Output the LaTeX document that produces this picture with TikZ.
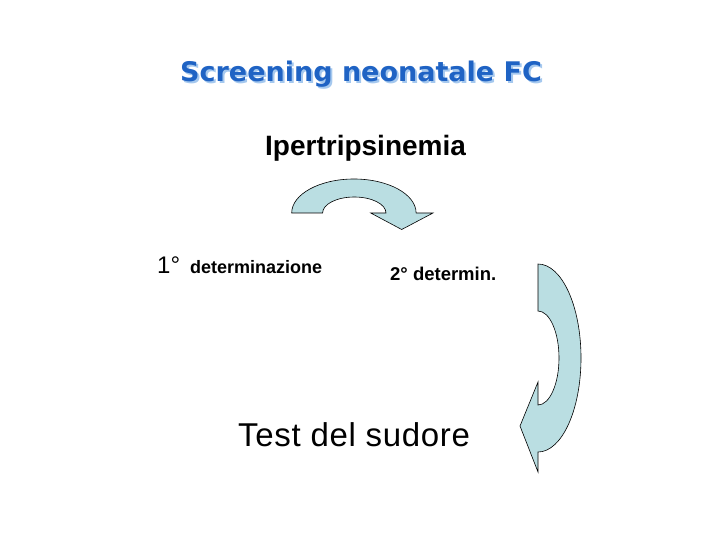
\documentclass[tikz,border=0pt]{standalone}
\usepackage{fontspec}
\setmainfont{Liberation Sans}
\newfontfamily\titlefont{DejaVu Sans}
\definecolor{arrowfill}{RGB}{186,222,226}
\definecolor{titleblue}{RGB}{31,99,196}
\definecolor{titleshadow}{RGB}{165,200,238}

\begin{document}
\begin{tikzpicture}[x=1pt,y=-1pt,
  lbl/.style={inner sep=0pt,anchor=base west},
  bendarrow/.style={draw=black,line width=0.6pt,fill=arrowfill}]
\useasboundingbox (0,0) rectangle (720,540);
% title with its shadow
\node[lbl,text=titleshadow,font=\titlefont\fontsize{27}{32}\selectfont\bfseries] (titlesh) at (182,84) {Screening neonatale FC};
\node[lbl,text=titleblue,font=\titlefont\fontsize{27}{32}\selectfont\bfseries] (title) at (180,82) {Screening neonatale FC};
% labels
\node[lbl,font=\fontsize{28}{33}\selectfont\bfseries] (iper) at (265,156) {Ipertripsinemia};
\node[lbl,font=\fontsize{24}{28}\selectfont] (first) at (157,273) {1°};
\node[lbl,font=\fontsize{18}{22}\selectfont\bfseries] (firstdet) at (190,273) {determinazione};
\node[lbl,font=\fontsize{18.5}{22}\selectfont\bfseries] (second) at (390,280) {2° determin.};
\node[lbl,font=\fontsize{33}{38}\selectfont\addfontfeature{LetterSpace=2}] (sweat) at (238,446) {Test del sudore};
% curved block arrows
\draw[bendarrow] (291.7,213) arc[start angle=180,end angle=360,x radius=62.2,y radius=34]
  -- (433,213) -- (401.7,229.5) -- (370.7,213) -- (386,213)
  arc[start angle=360,end angle=180,x radius=31.7,y radius=16] -- cycle;
\draw[bendarrow] (538,264) arc[start angle=-90,end angle=90,x radius=43,y radius=94]
  -- (538,472) -- (520,426) -- (538,382) -- (538,405)
  arc[start angle=90,end angle=-90,x radius=21,y radius=47] -- cycle;
\end{tikzpicture}
\end{document}
